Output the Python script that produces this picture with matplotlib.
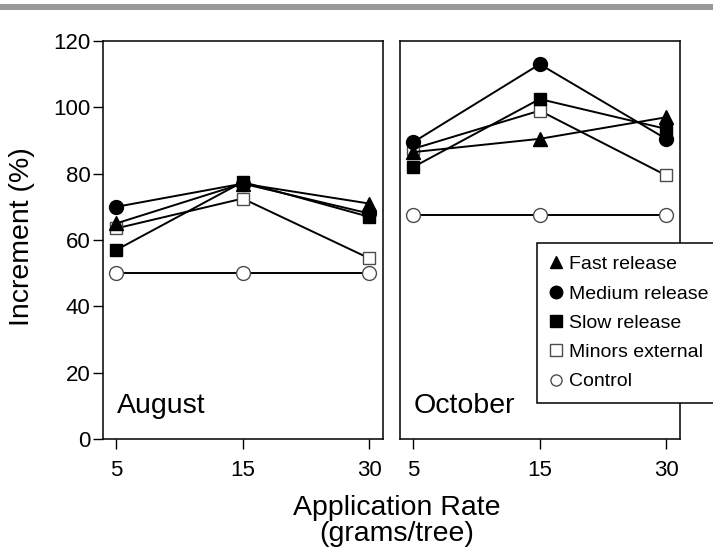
import numpy as np
import matplotlib
matplotlib.use('Agg')
import matplotlib.pyplot as plt
from matplotlib.lines import Line2D
from matplotlib.patches import Rectangle

plt.rcParams['font.family'] = ['Liberation Sans', 'DejaVu Sans']

rates = ['5', '15', '30']
series_names = ['Fast release', 'Medium release', 'Slow release', 'Minors external', 'Control']

aug_fast = [65, 77, 71]
aug_medium = [70, 77, 68]
aug_slow = [57, 77.5, 67]
aug_minors = [63.5, 72.5, 54.5]
aug_control = [50, 50, 50]

oct_fast = [86.5, 90.5, 97]
oct_medium = [89.5, 113, 90.5]
oct_slow = [82, 102.5, 93.5]
oct_minors = [87.5, 99, 79.5]
oct_control = [67.5, 67.5, 67.5]

styles = {
    'Fast release': dict(marker='^', ms=10, mfc='black', mec='black'),
    'Medium release': dict(marker='o', ms=10, mfc='black', mec='black'),
    'Slow release': dict(marker='s', ms=8, mfc='black', mec='black'),
    'Minors external': dict(marker='s', ms=8.5, mfc='white', mec='0.3'),
    'Control': dict(marker='o', ms=10, mfc='white', mec='0.3'),
}
draw_order = ['Control', 'Minors external', 'Slow release', 'Medium release', 'Fast release']

fig = plt.figure(figsize=(7.13, 5.5), dpi=100)

# scan artefact band at the top
fig.patches.append(Rectangle((0, 1 - 10 / 550), 1, 6 / 550, transform=fig.transFigure,
                             facecolor='0.6', edgecolor='none'))

ax1 = fig.add_axes([103 / 713, 1 - 439 / 550, 280 / 713, 398 / 550])
ax2 = fig.add_axes([400 / 713, 1 - 439 / 550, 280 / 713, 398 / 550])

panels = [
    (ax1, 'August', dict(zip(series_names, [aug_fast, aug_medium, aug_slow, aug_minors, aug_control]))),
    (ax2, 'October', dict(zip(series_names, [oct_fast, oct_medium, oct_slow, oct_minors, oct_control]))),
]

x = np.arange(len(rates))
for ax, month, data in panels:
    for name in draw_order:
        ax.plot(x, data[name], color='black', lw=1.4, mew=1.0, **styles[name])
    ax.set_xlim(-0.105, 2.11)
    ax.set_ylim(0, 120)
    ax.set_xticks(x)
    ax.set_xticklabels(rates)
    ax.tick_params(axis='x', direction='out', length=7, width=1, labelsize=16, pad=8)
    ax.text(0.05, 0.05, month, transform=ax.transAxes, fontsize=20.5, ha='left', va='bottom')
    for s in ax.spines.values():
        s.set_linewidth(1.1)

ax1.set_yticks(np.arange(0, 121, 20))
ax1.tick_params(axis='y', direction='out', length=7, width=1, labelsize=16, pad=2)
ax2.set_yticks([])

fig.text(22 / 713, 1 - 237 / 550, 'Increment (%)', rotation=90, fontsize=20.5,
         ha='center', va='center')
fig.text(397 / 713, 1 - 521 / 550, 'Application Rate\n(grams/tree)', fontsize=20.5,
         ha='center', va='center', linespacing=1.0)

handles = [Line2D([], [], linestyle='none', **styles[n]) for n in series_names]
for h, n in zip(handles, series_names):
    if n in ('Minors external', 'Control'):
        h.set_markersize(8)
    else:
        h.set_markersize(9)
leg = fig.legend(handles, series_names, loc='upper left', bbox_to_anchor=(537 / 713, 1 - 243 / 550),
                 fontsize=14, frameon=True, fancybox=False, edgecolor='black', framealpha=1,
                 handlelength=0.7, handletextpad=0.3, labelspacing=0.6, borderpad=0.65,
                 borderaxespad=0)
leg.get_frame().set_linewidth(1.1)

plt.savefig('out.png', dpi=100)
